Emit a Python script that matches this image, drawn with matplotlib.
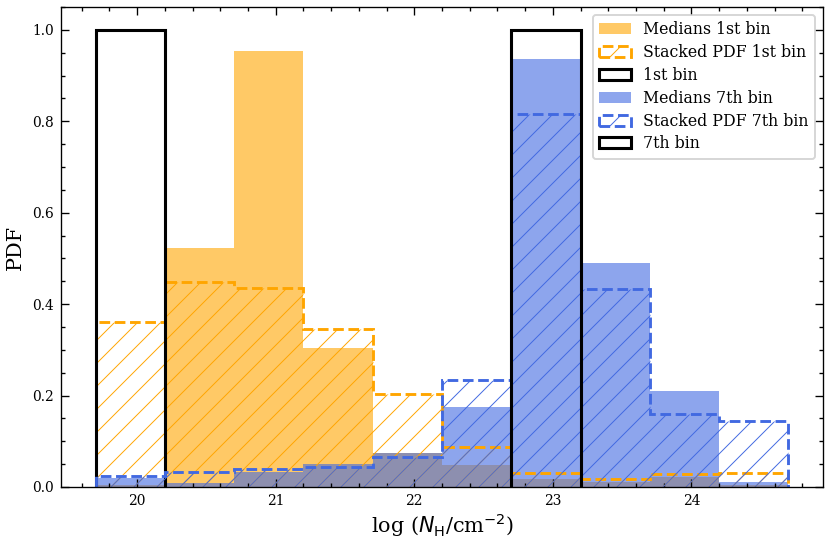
import numpy as np
import matplotlib
matplotlib.use("Agg")
import matplotlib.pyplot as plt
from matplotlib.ticker import AutoMinorLocator, MultipleLocator

edges = [19.7, 20.2, 20.7, 21.2, 21.7, 22.2, 22.7, 23.2, 23.7, 24.2, 24.7]
medians_1st = [0.004, 0.522, 0.954, 0.305, 0.074, 0.048, 0.017, 0.012, 0.022, 0.005]
stacked_1st = [0.360, 0.449, 0.436, 0.345, 0.204, 0.088, 0.031, 0.017, 0.028, 0.030]
medians_7th = [0.019, 0.009, 0.032, 0.050, 0.074, 0.176, 0.936, 0.489, 0.209, 0.012]
stacked_7th = [0.024, 0.033, 0.039, 0.044, 0.066, 0.234, 0.816, 0.433, 0.160, 0.144]

# the true N_H bin of each sample
first_bin_edges = [19.7, 20.2]
first_bin_pdf = [1.0]
seventh_bin_edges = [22.7, 23.2]
seventh_bin_pdf = [1.0]

DPI = 138.3
plt.rcParams["font.family"] = "DejaVu Serif"
plt.rcParams["mathtext.fontset"] = "dejavusans"
plt.rcParams["hatch.linewidth"] = 0.5
plt.rcParams["axes.linewidth"] = 0.7


def centers(e):
    e = np.asarray(e)
    return 0.5 * (e[:-1] + e[1:])


fig, ax = plt.subplots(figsize=(830 / DPI, 542 / DPI), dpi=DPI)
fig.subplots_adjust(left=0.0735, right=0.9916, bottom=0.1015, top=0.987)

ax.hist(centers(edges), bins=edges, weights=medians_1st, histtype="stepfilled",
        color="orange", alpha=0.6, lw=0, label="Medians 1st bin")
ax.hist(centers(edges), bins=edges, weights=stacked_1st, histtype="step",
        color="orange", ls="--", lw=1.5, hatch="//", label="Stacked PDF 1st bin")
ax.hist(centers(first_bin_edges), bins=first_bin_edges, weights=first_bin_pdf,
        histtype="step", color="black", lw=1.6, label="1st bin")
ax.hist(centers(edges), bins=edges, weights=medians_7th, histtype="stepfilled",
        color="royalblue", alpha=0.6, lw=0, label="Medians 7th bin")
ax.hist(centers(edges), bins=edges, weights=stacked_7th, histtype="step",
        color="royalblue", ls="--", lw=1.5, hatch="//", label="Stacked PDF 7th bin")
ax.hist(centers(seventh_bin_edges), bins=seventh_bin_edges, weights=seventh_bin_pdf,
        histtype="step", color="black", lw=1.6, label="7th bin")

ax.set_xlim(19.45, 24.95)
ax.set_ylim(0, 1.05)
ax.xaxis.set_major_locator(MultipleLocator(1))
ax.xaxis.set_minor_locator(AutoMinorLocator(5))
ax.yaxis.set_major_locator(MultipleLocator(0.2))
ax.yaxis.set_minor_locator(AutoMinorLocator(4))
ax.tick_params(which="both", direction="in", top=True, right=True,
               labelsize=7.2, width=0.7)
ax.tick_params(which="major", length=4)
ax.tick_params(which="minor", length=2)

ax.set_xlabel(r"log ($N_{\rm H}$/cm$^{-2}$)", fontsize=10.8, labelpad=2)
ax.set_ylabel("PDF", fontsize=10.8, labelpad=4)
ax.legend(loc="upper right", fontsize=8.2, labelspacing=0.37)

fig.savefig("out.png", dpi=DPI)
